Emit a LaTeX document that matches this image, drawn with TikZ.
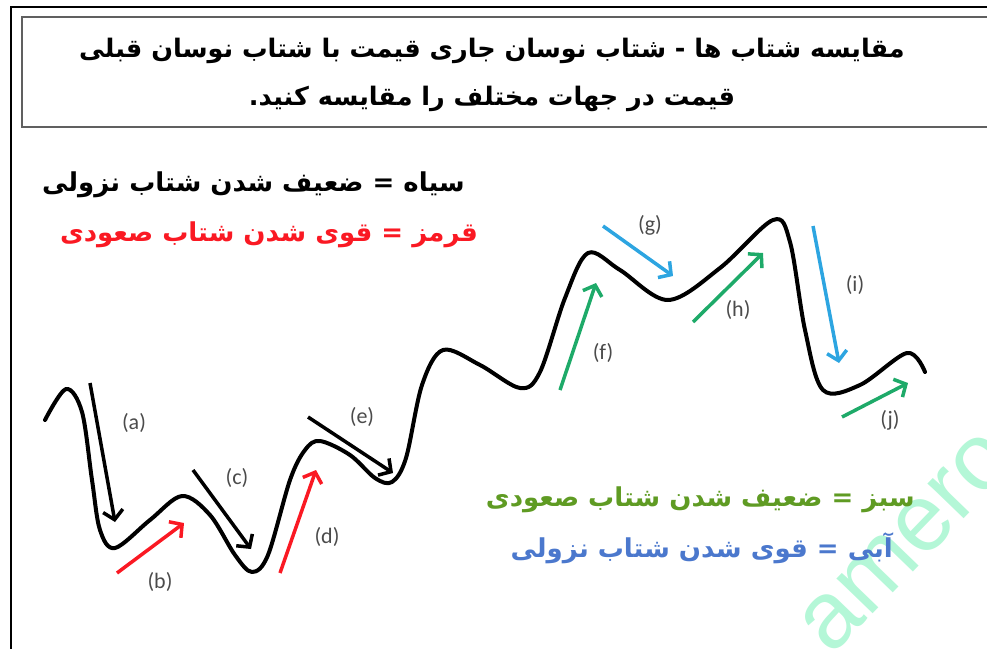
\documentclass[tikz,border=0pt]{standalone}
\usepackage{fontspec}
\setmainfont{Carlito}
\newfontfamily\arabicfont[Script=Arabic]{DejaVu Sans}
\newfontfamily\markfont{Liberation Sans}
\TeXXeTstate=1
\usetikzlibrary{arrows.meta}
\definecolor{arrred}{RGB}{250,25,35}
\definecolor{arrgreen}{RGB}{30,170,105}
\definecolor{arrblue}{RGB}{45,165,225}
\definecolor{txtgreen}{RGB}{95,155,35}
\definecolor{txtblue}{RGB}{75,120,205}
\definecolor{wmark}{RGB}{180,247,215}
\definecolor{lblgray}{RGB}{75,75,75}
\tikzset{
    frame/.style={draw=gray!75!black, line width=2.5pt},
    curve/.style={line width=4pt, line cap=round, line join=round},
    move/.style={line width=3.5pt, ->, >={Straight Barb[length=9pt,width=20pt]}},
    lbl/.style={text=lblgray, font=\fontsize{22}{26}\selectfont},
    legend/.style={anchor=east, inner sep=0pt, font=\arabicfont\bfseries\fontsize{26}{32}\selectfont}
}

\begin{document}
\begin{tikzpicture}[x=1pt, y=-1pt]
    \useasboundingbox (0,0) rectangle (987,648);
    \clip (0,0) rectangle (987,648);

    % outer frame and title box
    \draw [line width=2pt] (11,700) -- (11,7) -- (1000,7);
    \draw [frame] (22,17) rectangle (1000,127);
    \node (title) at (492,75) [align=center, font=\arabicfont\bfseries\fontsize{25.5}{48}\selectfont]
        {\beginR مقایسه شتاب ها - شتاب نوسان جاری قیمت با شتاب نوسان قبلی\endR\\
         \beginR قیمت در جهات مختلف را مقایسه کنید.\endR};

    % watermark
    \node (mark) at (829,659) [anchor=base west, rotate=46, text=wmark, font=\markfont\fontsize{95}{95}\selectfont] {amero};

    % legends
    \node (black) at (465,185) [legend] {\beginR سیاه = ضعیف شدن شتاب نزولی\endR};
    \node (red)   at (478,235) [legend, text=arrred] {\beginR قرمز = قوی شدن شتاب صعودی\endR};
    \node (green) at (915,500) [legend, text=txtgreen] {\beginR سبز = ضعیف شدن شتاب صعودی\endR};
    \node (blue)  at (893,548) [legend, text=txtblue] {\beginR آبی = قوی شدن شتاب نزولی\endR};

    % price swing
    \draw [curve] plot[smooth, tension=0.55] coordinates {
        (45,420) (66,389) (82,412) (92,480) (100,530) (115,548) (150,520) (182,496)
        (210,515) (235,555) (252,572) (268,555) (290,480) (305,450) (320,441) (350,455)
        (375,478) (392,482) (406,458) (422,385) (443,350) (480,365) (520,388) (540,372)
        (565,298) (588,253) (620,270) (668,300) (720,268) (773,220) (790,242) (805,330)
        (823,390) (860,385) (907,353) (925,372)};

    % swing arrows
    \coordinate (a1) at (90,383);   \coordinate (a2) at (115,522);
    \coordinate (b1) at (117,573);  \coordinate (b2) at (184,523);
    \coordinate (c1) at (193,470);  \coordinate (c2) at (251,549);
    \coordinate (d1) at (280,573);  \coordinate (d2) at (316,470);
    \coordinate (e1) at (308,417);  \coordinate (e2) at (393,473);
    \coordinate (f1) at (560,390);  \coordinate (f2) at (596,283);
    \coordinate (g1) at (603,226);  \coordinate (g2) at (673,276);
    \coordinate (h1) at (693,322);  \coordinate (h2) at (763,253);
    \coordinate (i1) at (813,226);  \coordinate (i2) at (839,363);
    \coordinate (j1) at (842,417);  \coordinate (j2) at (908,383);

    \draw [move] (a1) -- (a2);
    \draw [move, draw=arrred] (b1) -- (b2);
    \draw [move] (c1) -- (c2);
    \draw [move, draw=arrred] (d1) -- (d2);
    \draw [move] (e1) -- (e2);
    \draw [move, draw=arrgreen] (f1) -- (f2);
    \draw [move, draw=arrblue] (g1) -- (g2);
    \draw [move, draw=arrgreen] (h1) -- (h2);
    \draw [move, draw=arrblue] (i1) -- (i2);
    \draw [move, draw=arrgreen] (j1) -- (j2);

    \node (la) at (134,423) [lbl] {(a)};
    \node (lb) at (160,582) [lbl] {(b)};
    \node (lc) at (237,478) [lbl] {(c)};
    \node (ld) at (327,537) [lbl] {(d)};
    \node (le) at (362,417) [lbl] {(e)};
    \node (lf) at (603,353) [lbl] {(f)};
    \node (lg) at (650,225) [lbl] {(g)};
    \node (lh) at (738,310) [lbl] {(h)};
    \node (li) at (855,285) [lbl] {(i)};
    \node (lj) at (890,420) [lbl] {(j)};
\end{tikzpicture}
\end{document}
